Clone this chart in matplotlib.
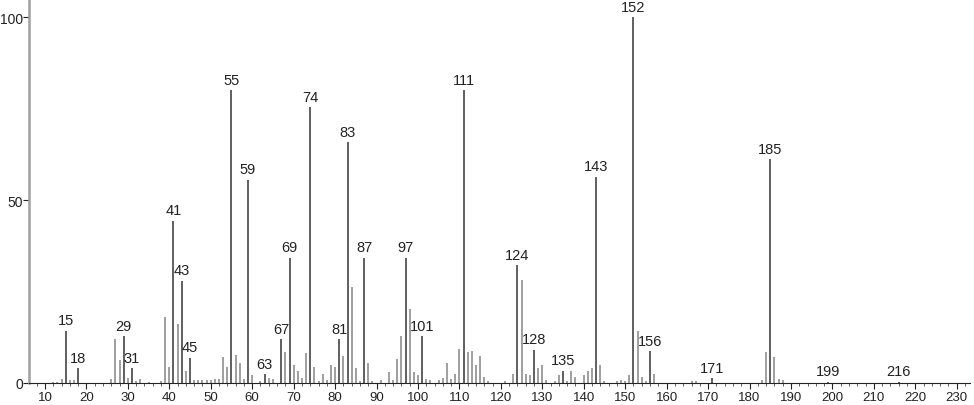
import matplotlib
matplotlib.use("Agg")
import matplotlib.pyplot as plt
from matplotlib.ticker import MultipleLocator

plt.rcParams["font.family"] = ["Liberation Sans", "DejaVu Sans"]

# m/z and relative intensity
mz = [12, 13, 14, 15, 16, 17, 18, 26, 27, 28, 29, 30, 31, 32, 33, 35, 38, 39, 40,
      41, 42, 43, 44, 45, 46, 47, 48, 49, 50, 51, 52, 53, 54, 55, 56, 57, 58, 59,
      60, 62, 63, 64, 65, 67, 68, 69, 70, 71, 72, 73, 74, 75, 76, 77, 78, 79, 80,
      81, 82, 83, 84, 85, 86, 87, 88, 89, 91, 93, 94, 95, 96, 97, 98, 99, 100,
      101, 102, 103, 105, 106, 107, 108, 109, 110, 111, 112, 113, 114, 115, 116,
      117, 121, 123, 124, 125, 126, 127, 128, 129, 130, 131, 133, 134, 135, 136,
      137, 138, 140, 141, 142, 143, 144, 145, 148, 149, 150, 151, 152, 153, 154,
      155, 156, 157, 166, 167, 171, 183, 184, 185, 186, 187, 188, 199, 216]
intensity = [0.4, 0.4, 1.1, 14.2, 0.8, 0.8, 4.0, 1.1, 12.0, 6.3, 12.8, 1.4, 4.0,
             0.6, 1.1, 0.4, 0.5, 18.0, 4.4, 44.3, 16.0, 28.0, 3.3, 6.8, 0.8, 0.8,
             0.8, 0.8, 0.8, 1.2, 1.0, 7.2, 4.4, 80.0, 7.6, 5.6, 1.2, 55.5, 2.2, 0.6,
             2.4, 1.4, 1.1, 11.9, 8.6, 34.2, 4.9, 3.3, 1.3, 8.3, 75.4, 4.5, 0.6,
             2.4, 0.7, 5.0, 4.5, 11.9, 7.5, 65.8, 26.2, 4.0, 0.6, 34.2, 5.6, 0.6,
             0.8, 2.9, 0.7, 6.5, 12.8, 34.2, 20.2, 3.1, 2.3, 12.8, 1.2, 0.7, 0.8,
             1.3, 5.4, 1.2, 2.5, 9.3, 80.0, 8.6, 8.8, 5.0, 7.5, 1.6, 0.6, 0.6, 2.5,
             32.2, 28.1, 2.5, 2.3, 9.0, 4.0, 4.9, 0.9, 0.6, 2.2, 3.4, 0.6, 3.3,
             1.6, 2.3, 3.3, 4.1, 56.3, 4.9, 0.6, 0.6, 0.8, 0.6, 2.3, 100.0, 14.2,
             1.6, 0.6, 8.7, 2.5, 0.6, 0.6, 1.3, 0.7, 8.6, 61.2, 7.2, 1.1, 0.7,
             0.3, 0.3]
labeled = [15, 18, 29, 31, 41, 43, 45, 55, 59, 63, 67, 69, 74, 81, 83, 87, 97,
           101, 111, 124, 128, 135, 143, 152, 156, 171, 185, 199, 216]

fig = plt.figure(figsize=(9.74, 4.06), dpi=100)
ax = fig.add_axes([29 / 974, 22 / 406, 941 / 974, 384 / 406])

for m, v in zip(mz, intensity):
    col = "#444444" if m in labeled else "#8f8f8f"
    ax.vlines(m, 0, v, color=col, linewidth=1.2)
    if m in labeled:
        ax.text(m, v + 1.0, str(m), ha="center", va="bottom",
                fontsize=10.5, color="#222222")

ax.set_xlim(6.14, 233.2)
ax.set_ylim(0, 105)
ax.set_xticks(range(10, 231, 10))
ax.xaxis.set_minor_locator(MultipleLocator(2))
ax.set_yticks([0, 50, 100])
ax.tick_params(axis="x", which="major", length=4, width=0.8, labelsize=9.5,
               pad=2, colors="#222222")
ax.tick_params(axis="x", which="minor", length=2, width=0.6, colors="#444444")
ax.tick_params(axis="y", length=4, width=0.8, labelsize=10, pad=0.5,
               colors="#222222")

for s in ["top", "right"]:
    ax.spines[s].set_visible(False)
ax.spines["left"].set_color("#a0a0a0")
ax.spines["left"].set_linewidth(1.8)
ax.spines["bottom"].set_color("#222222")
ax.spines["bottom"].set_linewidth(0.8)

fig.savefig("out.png", dpi=100)
